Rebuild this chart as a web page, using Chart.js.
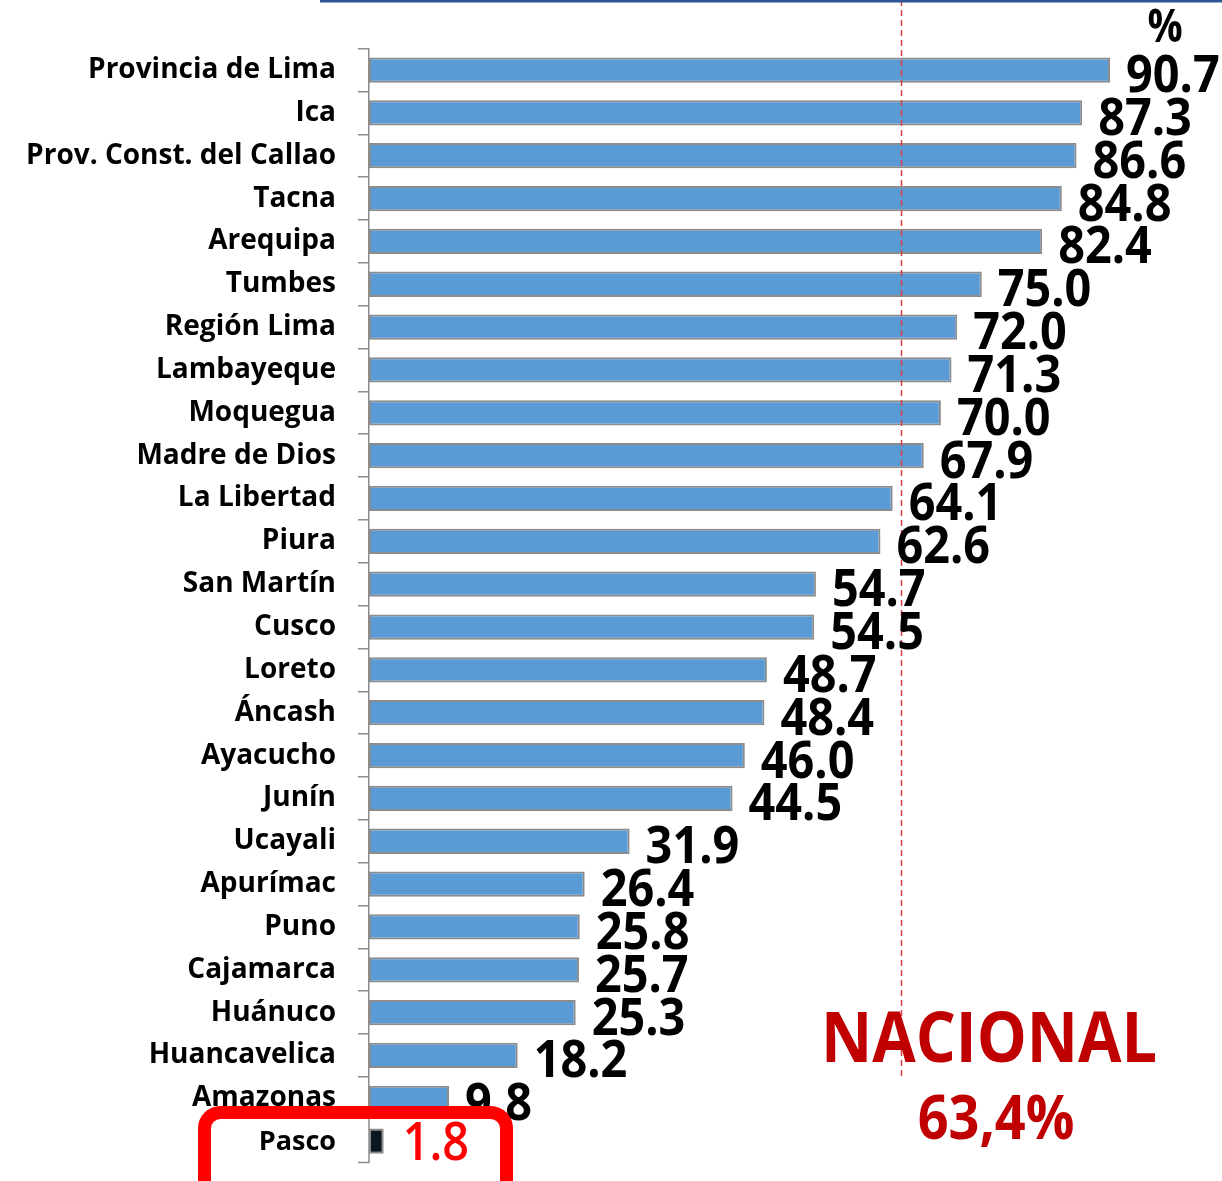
<!DOCTYPE html>
<html>
<head>
<meta charset="utf-8">
<script src="https://cdn.jsdelivr.net/npm/chart.js@4.4.1/dist/chart.umd.min.js"></script>
<style>
  html, body { margin: 0; padding: 0; background: #fff; }
  #wrap { width: 1222px; height: 1181px; }
</style>
</head>
<body>
<div id="wrap"><canvas id="chart"></canvas></div>
<script>
const categories = [
  "Provincia de Lima", "Ica", "Prov. Const. del Callao", "Tacna", "Arequipa",
  "Tumbes", "Región Lima", "Lambayeque", "Moquegua", "Madre de Dios",
  "La Libertad", "Piura", "San Martín", "Cusco", "Loreto", "Áncash",
  "Ayacucho", "Junín", "Ucayali", "Apurímac", "Puno", "Cajamarca",
  "Huánuco", "Huancavelica", "Amazonas", "Pasco"
];
const values = [
  90.7, 87.3, 86.6, 84.8, 82.4, 75.0, 72.0, 71.3, 70.0, 67.9, 64.1, 62.6, 54.7,
  54.5, 48.7, 48.4, 46.0, 44.5, 31.9, 26.4, 25.8, 25.7, 25.3, 18.2, 9.8, 1.8
];
const highlighted = "Pasco";
const nacionalLabel = "NACIONAL";
const nacionalText = "63,4%";
const nacionalLine = 65.1; // where the dashed line sits on the axis

const FONT = "'Open Sans', sans-serif";
const hiIndex = categories.indexOf(highlighted);

const extras = {
  id: "extras",
  afterDatasetsDraw(chart) {
    const ctx = chart.ctx;
    const x = chart.scales.x;
    const meta = chart.getDatasetMeta(0);
    // dashed national line
    const lx = Math.round(x.getPixelForValue(nacionalLine)) + 0.5;
    ctx.save();
    ctx.strokeStyle = "#d9404a";
    ctx.lineWidth = 1.5;
    ctx.setLineDash([6, 4]);
    ctx.beginPath();
    ctx.moveTo(lx, 0);
    ctx.lineTo(lx, 1076);
    ctx.stroke();
    ctx.restore();
    // value labels
    meta.data.forEach((bar, i) => {
      if (i === hiIndex) return;
      drawValue(ctx, values[i].toFixed(1), bar.x + 16, bar.y + 22, "#000", "bold");
    });
  },
  afterDraw(chart) {
    const ctx = chart.ctx;
    const area = chart.chartArea;
    const meta = chart.getDatasetMeta(0);
    const bar = meta.data[hiIndex];
    const axisX = chart.scales.y.right;

    ctx.save();
    // top rule
    ctx.fillStyle = "#2f5597";
    ctx.fillRect(320, 0, 902, 2.5);

    // highlight box
    ctx.beginPath();
    ctx.roundRect(204.5, 1112.5, 302, 90, 16);
    ctx.fillStyle = "#fff";
    ctx.fill();
    ctx.lineWidth = 13;
    ctx.strokeStyle = "#ff0000";
    ctx.stroke();

    // axis piece inside box
    ctx.strokeStyle = "#8c8c8c";
    ctx.lineWidth = 1.5;
    ctx.beginPath();
    ctx.moveTo(axisX, 1119);
    ctx.lineTo(axisX, area.bottom);
    ctx.lineTo(axisX - 11, area.bottom);
    ctx.stroke();

    // label
    ctx.fillStyle = "#000";
    ctx.font = "bold 27px " + FONT;
    ctx.textAlign = "right";
    ctx.textBaseline = "middle";
    ctx.fillText(highlighted, 336, bar.y + 1);
    ctx.restore();

    bar.draw(ctx);
    drawValue(ctx, values[hiIndex].toFixed(1), bar.x + 19, bar.y + 19, "#ff0000", "600");

    // nacional
    ctx.save();
    ctx.fillStyle = "#c00000";
    ctx.textAlign = "center";
    ctx.textBaseline = "alphabetic";
    ctx.font = "bold 70px " + FONT;
    ctx.translate(989, 1062);
    ctx.scale(0.9, 1);
    ctx.fillText(nacionalLabel, 0, 0);
    ctx.restore();

    ctx.save();
    ctx.fillStyle = "#c00000";
    ctx.textAlign = "center";
    ctx.font = "bold 60px " + FONT;
    ctx.translate(996, 1139);
    ctx.scale(0.9, 1);
    ctx.fillText(nacionalText, 0, 0);
    ctx.restore();

    // unit
    ctx.save();
    ctx.fillStyle = "#000";
    ctx.textAlign = "center";
    ctx.font = "bold 46px " + FONT;
    ctx.translate(1165, 42);
    ctx.scale(0.85, 1);
    ctx.fillText("%", 0, 0);
    ctx.restore();
  }
};

function drawValue(ctx, text, x, y, color, weight) {
  ctx.save();
  ctx.fillStyle = color;
  ctx.font = weight + " 52px " + FONT;
  ctx.textAlign = "left";
  ctx.textBaseline = "alphabetic";
  ctx.translate(x, y);
  ctx.scale(0.9, 1);
  ctx.fillText(text, 0, 0);
  ctx.restore();
}

new Chart(document.getElementById("chart"), {
  type: "bar",
  data: {
    labels: categories,
    datasets: [{
      data: values,
      backgroundColor: categories.map(c => c === highlighted ? "#0c1621" : "#5b9bd5"),
      borderColor: "#8c8c8c",
      borderWidth: 2,
      borderSkipped: false,
      barPercentage: 0.59,
      categoryPercentage: 1
    }]
  },
  options: {
    indexAxis: "y",
    responsive: true,
    maintainAspectRatio: false,
    animation: false,
    layout: { padding: { top: 48.6, bottom: 18.4, left: 0, right: 36 } },
    plugins: { legend: { display: false }, tooltip: { enabled: false } },
    scales: {
      x: { display: false, min: 0, max: 100 },
      y: {
        afterFit(scale) {
          scale.width = 369;
          scale.paddingTop = 0;
          scale.paddingBottom = 0;
        },
        grid: {
          offset: true,
          drawOnChartArea: false,
          drawTicks: true,
          tickLength: 11,
          color: "#8c8c8c",
          lineWidth: 1.5
        },
        border: { color: "#8c8c8c", width: 1.5 },
        ticks: {
          padding: 22,
          color: "#000",
          font: { family: FONT, size: 28, weight: "bold" },
          callback(v, i) { return categories[i] === highlighted ? "" : categories[i]; }
        }
      }
    }
  },
  plugins: [extras]
});
</script>
</body>
</html>
